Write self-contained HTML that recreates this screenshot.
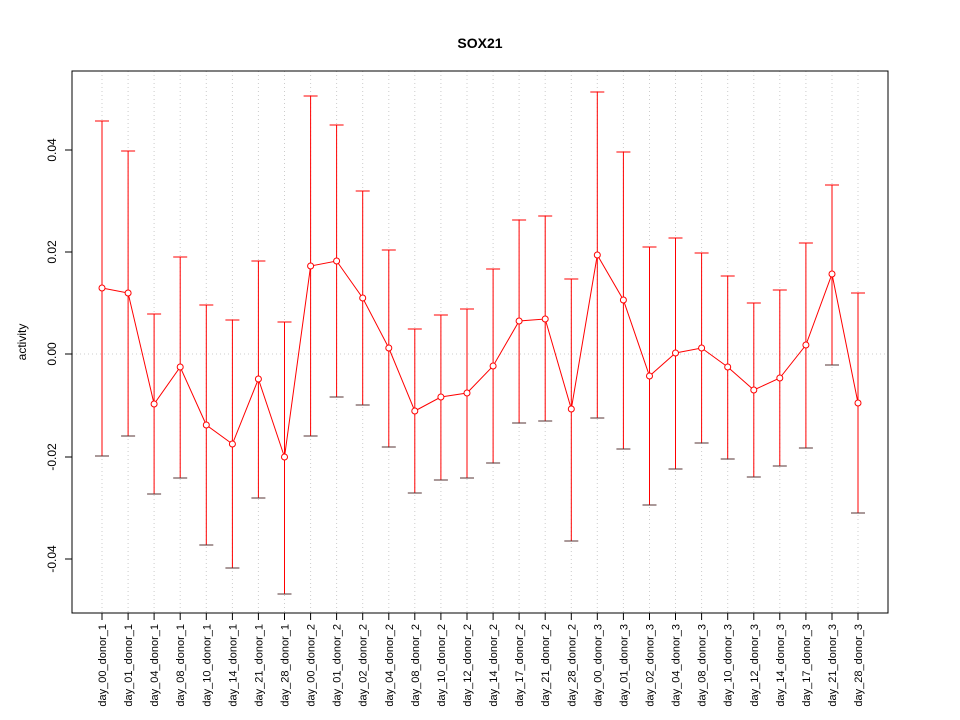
<!DOCTYPE html>
<html><head><meta charset="utf-8"><style>body{margin:0;background:#fff}svg{display:block}
.p line{stroke:#f00}.p line.b{stroke:#533}.p line.t{stroke:#000}.p line.g{stroke:#ccc;stroke-dasharray:1,3}
.p text{font-size:11px;text-anchor:end}.p circle{fill:#fff;stroke:#f00}</style></head>
<body>
<svg width="960" height="720" xmlns="http://www.w3.org/2000/svg" font-family="Liberation Sans, sans-serif">
<rect width="960" height="720" fill="#fff"/>
<text x="480" y="48" text-anchor="middle" font-size="14" font-weight="bold">SOX21</text>
<line x1="72" y1="354" x2="888" y2="354" stroke="#ccc" stroke-dasharray="1,3"/>
<g class="p">
<g transform="translate(102,0)"><line class="g" y1="71" y2="613"/><line y1="121" y2="456"/><line x1="-7" x2="7" y1="121" y2="121"/><line class="b" x1="-7" x2="7" y1="456" y2="456"/><line class="t" y1="613" y2="620"/><text transform="translate(4,624) rotate(-90)">day_00_donor_1</text></g>
<g transform="translate(128.1,0)"><line class="g" y1="71" y2="613"/><line y1="151" y2="436"/><line x1="-7" x2="7" y1="151" y2="151"/><line class="b" x1="-7" x2="7" y1="436" y2="436"/><line class="t" y1="613" y2="620"/><text transform="translate(4,624) rotate(-90)">day_01_donor_1</text></g>
<g transform="translate(154.1,0)"><line class="g" y1="71" y2="613"/><line y1="314" y2="494"/><line x1="-7" x2="7" y1="314" y2="314"/><line class="b" x1="-7" x2="7" y1="494" y2="494"/><line class="t" y1="613" y2="620"/><text transform="translate(4,624) rotate(-90)">day_04_donor_1</text></g>
<g transform="translate(180.2,0)"><line class="g" y1="71" y2="613"/><line y1="257" y2="478"/><line x1="-7" x2="7" y1="257" y2="257"/><line class="b" x1="-7" x2="7" y1="478" y2="478"/><line class="t" y1="613" y2="620"/><text transform="translate(4,624) rotate(-90)">day_08_donor_1</text></g>
<g transform="translate(206.3,0)"><line class="g" y1="71" y2="613"/><line y1="305" y2="545"/><line x1="-7" x2="7" y1="305" y2="305"/><line class="b" x1="-7" x2="7" y1="545" y2="545"/><line class="t" y1="613" y2="620"/><text transform="translate(4,624) rotate(-90)">day_10_donor_1</text></g>
<g transform="translate(232.4,0)"><line class="g" y1="71" y2="613"/><line y1="320" y2="568"/><line x1="-7" x2="7" y1="320" y2="320"/><line class="b" x1="-7" x2="7" y1="568" y2="568"/><line class="t" y1="613" y2="620"/><text transform="translate(4,624) rotate(-90)">day_14_donor_1</text></g>
<g transform="translate(258.4,0)"><line class="g" y1="71" y2="613"/><line y1="261" y2="498"/><line x1="-7" x2="7" y1="261" y2="261"/><line class="b" x1="-7" x2="7" y1="498" y2="498"/><line class="t" y1="613" y2="620"/><text transform="translate(4,624) rotate(-90)">day_21_donor_1</text></g>
<g transform="translate(284.5,0)"><line class="g" y1="71" y2="613"/><line y1="322" y2="594"/><line x1="-7" x2="7" y1="322" y2="322"/><line class="b" x1="-7" x2="7" y1="594" y2="594"/><line class="t" y1="613" y2="620"/><text transform="translate(4,624) rotate(-90)">day_28_donor_1</text></g>
<g transform="translate(310.6,0)"><line class="g" y1="71" y2="613"/><line y1="96" y2="436"/><line x1="-7" x2="7" y1="96" y2="96"/><line class="b" x1="-7" x2="7" y1="436" y2="436"/><line class="t" y1="613" y2="620"/><text transform="translate(4,624) rotate(-90)">day_00_donor_2</text></g>
<g transform="translate(336.6,0)"><line class="g" y1="71" y2="613"/><line y1="125" y2="397"/><line x1="-7" x2="7" y1="125" y2="125"/><line class="b" x1="-7" x2="7" y1="397" y2="397"/><line class="t" y1="613" y2="620"/><text transform="translate(4,624) rotate(-90)">day_01_donor_2</text></g>
<g transform="translate(362.7,0)"><line class="g" y1="71" y2="613"/><line y1="191" y2="405"/><line x1="-7" x2="7" y1="191" y2="191"/><line class="b" x1="-7" x2="7" y1="405" y2="405"/><line class="t" y1="613" y2="620"/><text transform="translate(4,624) rotate(-90)">day_02_donor_2</text></g>
<g transform="translate(388.8,0)"><line class="g" y1="71" y2="613"/><line y1="250" y2="447"/><line x1="-7" x2="7" y1="250" y2="250"/><line class="b" x1="-7" x2="7" y1="447" y2="447"/><line class="t" y1="613" y2="620"/><text transform="translate(4,624) rotate(-90)">day_04_donor_2</text></g>
<g transform="translate(414.8,0)"><line class="g" y1="71" y2="613"/><line y1="329" y2="493"/><line x1="-7" x2="7" y1="329" y2="329"/><line class="b" x1="-7" x2="7" y1="493" y2="493"/><line class="t" y1="613" y2="620"/><text transform="translate(4,624) rotate(-90)">day_08_donor_2</text></g>
<g transform="translate(440.9,0)"><line class="g" y1="71" y2="613"/><line y1="315" y2="480"/><line x1="-7" x2="7" y1="315" y2="315"/><line class="b" x1="-7" x2="7" y1="480" y2="480"/><line class="t" y1="613" y2="620"/><text transform="translate(4,624) rotate(-90)">day_10_donor_2</text></g>
<g transform="translate(467,0)"><line class="g" y1="71" y2="613"/><line y1="309" y2="478"/><line x1="-7" x2="7" y1="309" y2="309"/><line class="b" x1="-7" x2="7" y1="478" y2="478"/><line class="t" y1="613" y2="620"/><text transform="translate(4,624) rotate(-90)">day_12_donor_2</text></g>
<g transform="translate(493.1,0)"><line class="g" y1="71" y2="613"/><line y1="269" y2="463"/><line x1="-7" x2="7" y1="269" y2="269"/><line class="b" x1="-7" x2="7" y1="463" y2="463"/><line class="t" y1="613" y2="620"/><text transform="translate(4,624) rotate(-90)">day_14_donor_2</text></g>
<g transform="translate(519.1,0)"><line class="g" y1="71" y2="613"/><line y1="220" y2="423"/><line x1="-7" x2="7" y1="220" y2="220"/><line class="b" x1="-7" x2="7" y1="423" y2="423"/><line class="t" y1="613" y2="620"/><text transform="translate(4,624) rotate(-90)">day_17_donor_2</text></g>
<g transform="translate(545.2,0)"><line class="g" y1="71" y2="613"/><line y1="216" y2="421"/><line x1="-7" x2="7" y1="216" y2="216"/><line class="b" x1="-7" x2="7" y1="421" y2="421"/><line class="t" y1="613" y2="620"/><text transform="translate(4,624) rotate(-90)">day_21_donor_2</text></g>
<g transform="translate(571.3,0)"><line class="g" y1="71" y2="613"/><line y1="279" y2="541"/><line x1="-7" x2="7" y1="279" y2="279"/><line class="b" x1="-7" x2="7" y1="541" y2="541"/><line class="t" y1="613" y2="620"/><text transform="translate(4,624) rotate(-90)">day_28_donor_2</text></g>
<g transform="translate(597.3,0)"><line class="g" y1="71" y2="613"/><line y1="92" y2="418"/><line x1="-7" x2="7" y1="92" y2="92"/><line class="b" x1="-7" x2="7" y1="418" y2="418"/><line class="t" y1="613" y2="620"/><text transform="translate(4,624) rotate(-90)">day_00_donor_3</text></g>
<g transform="translate(623.4,0)"><line class="g" y1="71" y2="613"/><line y1="152" y2="449"/><line x1="-7" x2="7" y1="152" y2="152"/><line class="b" x1="-7" x2="7" y1="449" y2="449"/><line class="t" y1="613" y2="620"/><text transform="translate(4,624) rotate(-90)">day_01_donor_3</text></g>
<g transform="translate(649.5,0)"><line class="g" y1="71" y2="613"/><line y1="247" y2="505"/><line x1="-7" x2="7" y1="247" y2="247"/><line class="b" x1="-7" x2="7" y1="505" y2="505"/><line class="t" y1="613" y2="620"/><text transform="translate(4,624) rotate(-90)">day_02_donor_3</text></g>
<g transform="translate(675.5,0)"><line class="g" y1="71" y2="613"/><line y1="238" y2="469"/><line x1="-7" x2="7" y1="238" y2="238"/><line class="b" x1="-7" x2="7" y1="469" y2="469"/><line class="t" y1="613" y2="620"/><text transform="translate(4,624) rotate(-90)">day_04_donor_3</text></g>
<g transform="translate(701.6,0)"><line class="g" y1="71" y2="613"/><line y1="253" y2="443"/><line x1="-7" x2="7" y1="253" y2="253"/><line class="b" x1="-7" x2="7" y1="443" y2="443"/><line class="t" y1="613" y2="620"/><text transform="translate(4,624) rotate(-90)">day_08_donor_3</text></g>
<g transform="translate(727.7,0)"><line class="g" y1="71" y2="613"/><line y1="276" y2="459"/><line x1="-7" x2="7" y1="276" y2="276"/><line class="b" x1="-7" x2="7" y1="459" y2="459"/><line class="t" y1="613" y2="620"/><text transform="translate(4,624) rotate(-90)">day_10_donor_3</text></g>
<g transform="translate(753.8,0)"><line class="g" y1="71" y2="613"/><line y1="303" y2="477"/><line x1="-7" x2="7" y1="303" y2="303"/><line class="b" x1="-7" x2="7" y1="477" y2="477"/><line class="t" y1="613" y2="620"/><text transform="translate(4,624) rotate(-90)">day_12_donor_3</text></g>
<g transform="translate(779.8,0)"><line class="g" y1="71" y2="613"/><line y1="290" y2="466"/><line x1="-7" x2="7" y1="290" y2="290"/><line class="b" x1="-7" x2="7" y1="466" y2="466"/><line class="t" y1="613" y2="620"/><text transform="translate(4,624) rotate(-90)">day_14_donor_3</text></g>
<g transform="translate(805.9,0)"><line class="g" y1="71" y2="613"/><line y1="243" y2="448"/><line x1="-7" x2="7" y1="243" y2="243"/><line class="b" x1="-7" x2="7" y1="448" y2="448"/><line class="t" y1="613" y2="620"/><text transform="translate(4,624) rotate(-90)">day_17_donor_3</text></g>
<g transform="translate(832,0)"><line class="g" y1="71" y2="613"/><line y1="185" y2="365"/><line x1="-7" x2="7" y1="185" y2="185"/><line class="b" x1="-7" x2="7" y1="365" y2="365"/><line class="t" y1="613" y2="620"/><text transform="translate(4,624) rotate(-90)">day_21_donor_3</text></g>
<g transform="translate(858,0)"><line class="g" y1="71" y2="613"/><line y1="293" y2="513"/><line x1="-7" x2="7" y1="293" y2="293"/><line class="b" x1="-7" x2="7" y1="513" y2="513"/><line class="t" y1="613" y2="620"/><text transform="translate(4,624) rotate(-90)">day_28_donor_3</text></g>
<polyline fill="none" stroke="#f00" points="102,288 128.1,293 154.1,404 180.2,367 206.3,425 232.4,444 258.4,379 284.5,457 310.6,266 336.6,261 362.7,298 388.8,348 414.8,411 440.9,397 467,393 493.1,366 519.1,321 545.2,319 571.3,409 597.3,255 623.4,300 649.5,376 675.5,353 701.6,348 727.7,367 753.8,390 779.8,378 805.9,345 832,274 858,403"/>
<circle cx="102" cy="288" r="3"/><circle cx="128.1" cy="293" r="3"/><circle cx="154.1" cy="404" r="3"/><circle cx="180.2" cy="367" r="3"/><circle cx="206.3" cy="425" r="3"/><circle cx="232.4" cy="444" r="3"/><circle cx="258.4" cy="379" r="3"/><circle cx="284.5" cy="457" r="3"/><circle cx="310.6" cy="266" r="3"/><circle cx="336.6" cy="261" r="3"/><circle cx="362.7" cy="298" r="3"/><circle cx="388.8" cy="348" r="3"/><circle cx="414.8" cy="411" r="3"/><circle cx="440.9" cy="397" r="3"/><circle cx="467" cy="393" r="3"/><circle cx="493.1" cy="366" r="3"/><circle cx="519.1" cy="321" r="3"/><circle cx="545.2" cy="319" r="3"/><circle cx="571.3" cy="409" r="3"/><circle cx="597.3" cy="255" r="3"/><circle cx="623.4" cy="300" r="3"/><circle cx="649.5" cy="376" r="3"/><circle cx="675.5" cy="353" r="3"/><circle cx="701.6" cy="348" r="3"/><circle cx="727.7" cy="367" r="3"/><circle cx="753.8" cy="390" r="3"/><circle cx="779.8" cy="378" r="3"/><circle cx="805.9" cy="345" r="3"/><circle cx="832" cy="274" r="3"/><circle cx="858" cy="403" r="3"/>
</g>
<line x1="102" y1="613" x2="858" y2="613" stroke="#000"/>
<rect x="72" y="71" width="816" height="542" fill="none" stroke="#000"/>
<g stroke="#000">
<line x1="72" y1="150" x2="72" y2="559"/>
<line x1="72" y1="150" x2="65" y2="150"/><line x1="72" y1="252" x2="65" y2="252"/><line x1="72" y1="354" x2="65" y2="354"/><line x1="72" y1="457" x2="65" y2="457"/><line x1="72" y1="559" x2="65" y2="559"/>
</g>
<g font-size="12" text-anchor="middle">
<text transform="translate(56,150) rotate(-90)">0.04</text>
<text transform="translate(56,252) rotate(-90)">0.02</text>
<text transform="translate(56,354) rotate(-90)">0.00</text>
<text transform="translate(56,457) rotate(-90)">-0.02</text>
<text transform="translate(56,559) rotate(-90)">-0.04</text>
<text transform="translate(26,342) rotate(-90)">activity</text>
</g>
</svg>
</body></html>
